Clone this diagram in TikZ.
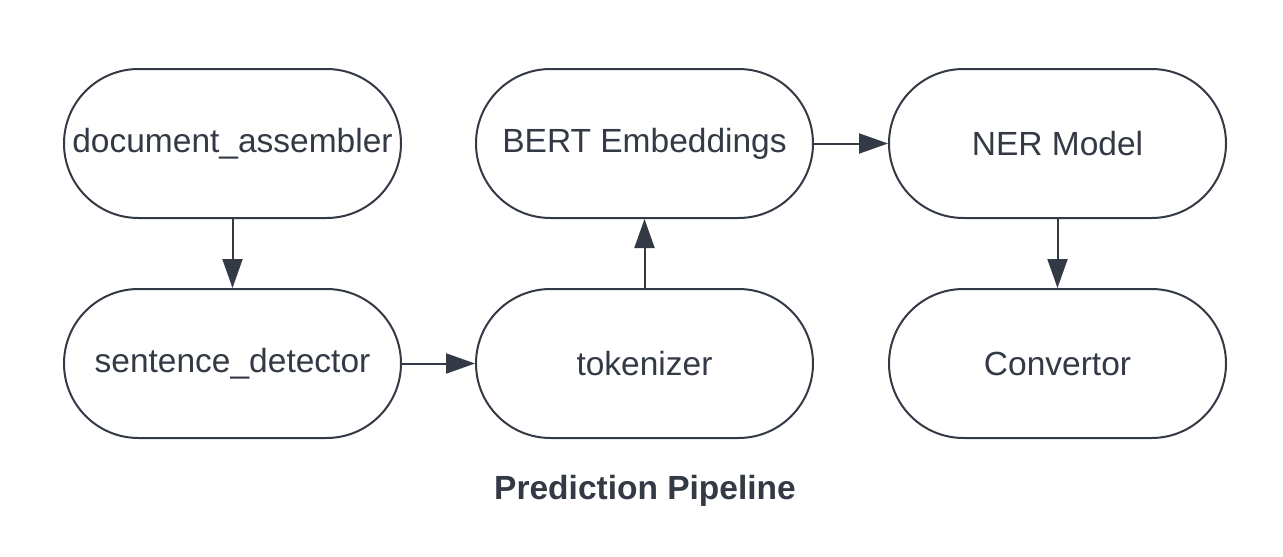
\documentclass[tikz,border=0pt]{standalone}
\usepackage{fontspec}
\setmainfont{Liberation Sans}
\usetikzlibrary{arrows.meta}
\definecolor{ink}{HTML}{333A45}
\tikzset{
  stadium/.style={draw=ink, line width=2pt, rounded corners=74.5pt, minimum width=337pt, minimum height=149pt, inner sep=0pt, text=ink, font=\fontsize{33.5}{40}\selectfont},
  conn/.style={draw=ink, line width=2pt, -{Triangle[length=29pt,width=20pt]}}
}
\begin{document}
\begin{tikzpicture}[x=1pt,y=-1pt]
\useasboundingbox[fill=white] (0,0) rectangle (1283,557);
\node[stadium] (doc) at (232.5,143.5) {document\_assembler};
\node[stadium] (bert) at (644.5,143.5) {BERT Embeddings};
\node[stadium] (ner) at (1057.5,143.5) {NER Model};
\node[stadium] (sent) at (232.5,363.5) {sentence\_detector};
\node[stadium] (tok) at (644.5,363.5) {tokenizer};
\node[stadium] (conv) at (1057.5,363.5) {Convertor};
\node[text=ink, font=\fontsize{33.5}{40}\selectfont\bfseries] (title) at (645,491) {Prediction Pipeline};
\draw[conn] (doc) -- (sent);
\draw[conn] (sent) -- (tok);
\draw[conn] (tok) -- (bert);
\draw[conn] (bert) -- (ner);
\draw[conn] (ner) -- (conv);
\end{tikzpicture}
\end{document}
